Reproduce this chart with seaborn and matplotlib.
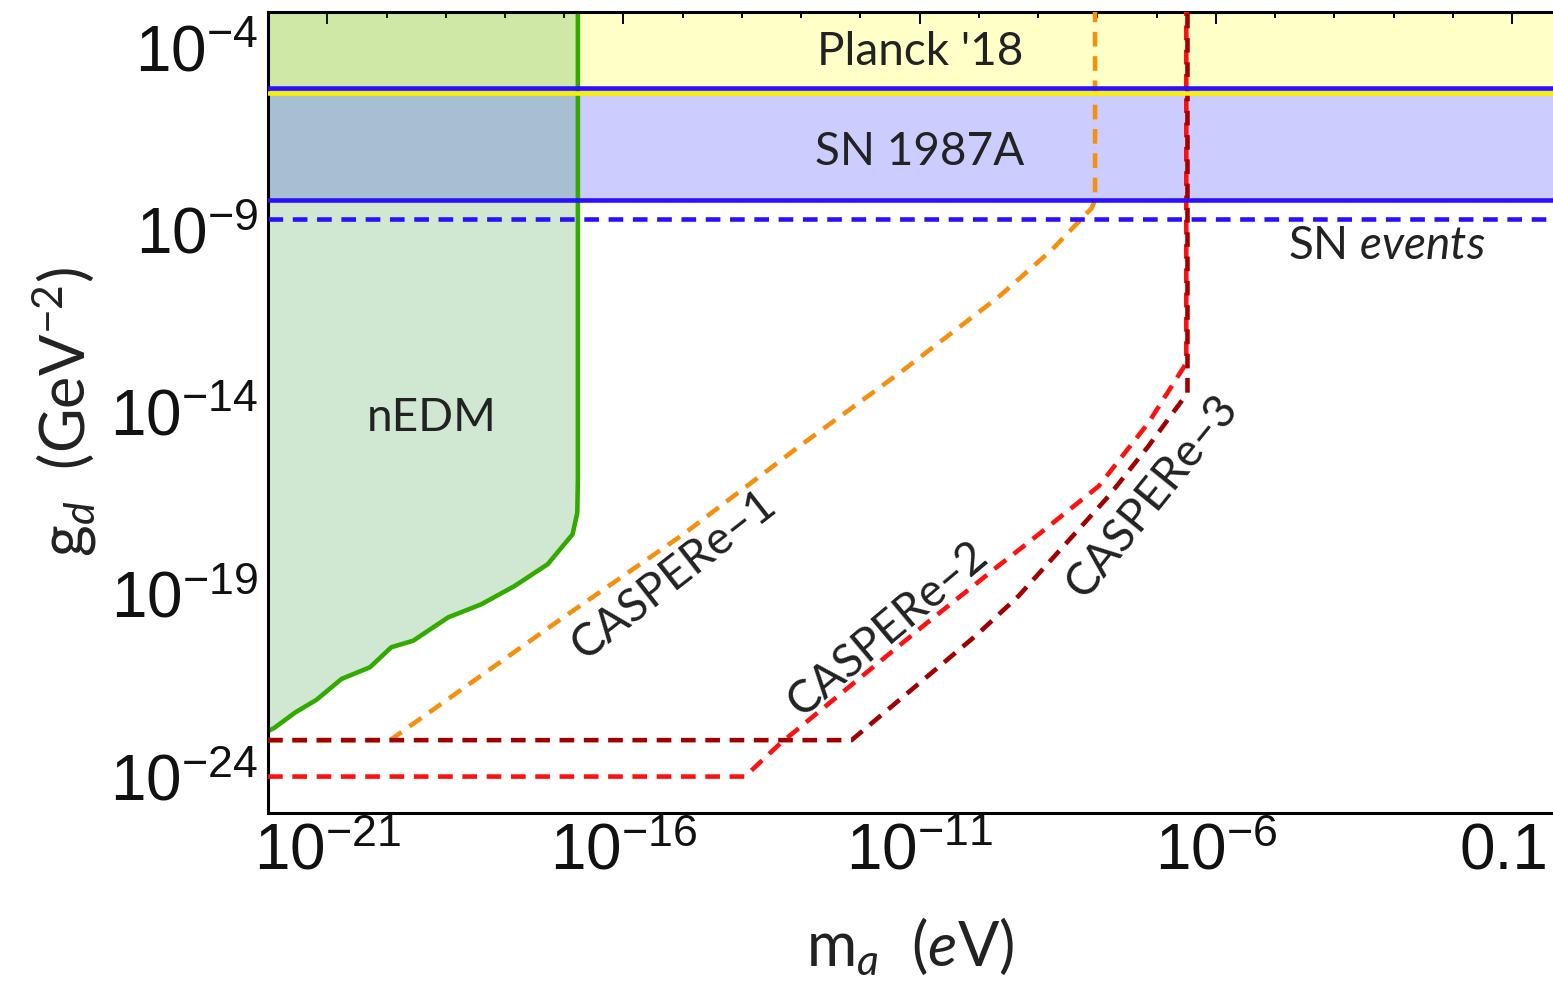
import numpy as np
import pandas as pd
import seaborn as sns
import matplotlib.pyplot as plt
import matplotlib.transforms as mtransforms
from matplotlib.ticker import FixedLocator, FixedFormatter, NullFormatter

# all values are log10 exponents
x_range = (-22.0, -0.31)
y_range = (-25.0, -3.0)

nedm_m = [-22.0, -21.90, -21.54, -21.18, -20.76, -20.28, -19.92, -19.55, -18.96,
          -18.40, -17.84, -17.28, -16.86, -16.78, -16.77, -16.77]
nedm_g = [-22.75, -22.67, -22.24, -21.89, -21.32, -21.0, -20.45, -20.27, -19.63,
          -19.27, -18.77, -18.17, -17.35, -16.76, -15.84, -3.0]

casper1_m = [-22.0, -19.94, -17.06, -15.0, -13.03, -11.34, -9.66, -8.77, -8.10, -8.04, -8.04]
casper1_g = [-23.0, -23.0, -19.68, -17.36, -14.93, -12.92, -10.82, -9.54, -8.40, -8.17, -3.0]

casper2_m = [-22.0, -13.95, -13.36, -10.93, -9.66, -9.10, -7.98, -7.14, -6.50, -6.50]
casper2_g = [-24.0, -24.0, -23.1, -19.85, -18.2, -17.49, -16.03, -14.29, -12.65, -3.0]

casper3_m = [-22.0, -12.15, -10.03, -9.33, -7.81, -7.14, -6.48, -6.48]
casper3_g = [-23.0, -23.0, -20.1, -19.04, -16.30, -14.93, -13.47, -3.0]

planck_g = -5.22
sn1987a_g = (-8.17, -5.10)
sn_events_g = -8.70

xtick_exp = [-21, -16, -11, -6, -1]
xtick_labels = [r'$\mathdefault{10^{-21}}$', r'$\mathdefault{10^{-16}}$',
                r'$\mathdefault{10^{-11}}$', r'$\mathdefault{10^{-6}}$', '0.1']
ytick_exp = [-24, -19, -14, -9, -4]
ytick_labels = [r'$\mathdefault{10^{-24}}$', r'$\mathdefault{10^{-19}}$',
                r'$\mathdefault{10^{-14}}$', r'$\mathdefault{10^{-9}}$',
                r'$\mathdefault{10^{-4}}$']

sns.set_style("white")
plt.rcParams['font.family'] = ['Lato', 'DejaVu Sans']
plt.rcParams['mathtext.fontset'] = 'custom'
plt.rcParams['mathtext.rm'] = 'Lato'
plt.rcParams['mathtext.it'] = 'Lato:italic'
plt.rcParams['mathtext.default'] = 'regular'

def to_df(m, g):
    return pd.DataFrame({'m': 10.0 ** np.array(m), 'g': 10.0 ** np.array(g)})

fig = plt.figure(figsize=(15.53, 9.90), dpi=100)
ax = fig.add_axes([0.1726, 0.1788, 0.8274, 0.8094])

ytop = 10.0 ** y_range[1]
# bands
ax.axhspan(10.0 ** planck_g, ytop, color='#ffffc8', lw=0, zorder=0)
ax.axhspan(10.0 ** sn1987a_g[0], 10.0 ** sn1987a_g[1], color='#ccccff', lw=0, zorder=0)
nedm = to_df(nedm_m, nedm_g)
ax.fill_between(nedm['m'], nedm['g'], ytop, color=(20/255, 140/255, 30/255), alpha=0.2, lw=0, zorder=1)

dash = (0, (3.2, 2.1))
lw = 3.3
sns.lineplot(data=nedm, x='m', y='g', sort=False, estimator=None, ax=ax,
             color='#33aa00', lw=lw, zorder=2)
sns.lineplot(data=to_df(casper1_m, casper1_g), x='m', y='g', sort=False, estimator=None,
             ax=ax, color='#f5900f', lw=lw, linestyle=dash, zorder=3)
sns.lineplot(data=to_df(casper2_m, casper2_g), x='m', y='g', sort=False, estimator=None,
             ax=ax, color='#ff1010', lw=lw, linestyle=dash, zorder=4)
sns.lineplot(data=to_df(casper3_m, casper3_g), x='m', y='g', sort=False, estimator=None,
             ax=ax, color='#a00000', lw=lw, linestyle=dash, zorder=5)

ax.axhline(10.0 ** planck_g, color='#f8f000', lw=lw, zorder=6)
for g in sn1987a_g:
    ax.axhline(10.0 ** g, color='#2a10ff', lw=lw, zorder=6)
ax.axhline(10.0 ** sn_events_g, color='#2a10ff', lw=lw, linestyle=dash, zorder=6)

ax.set_xscale('log')
ax.set_yscale('log')
ax.set_xlim(10.0 ** x_range[0], 10.0 ** x_range[1])
ax.set_ylim(10.0 ** y_range[0], ytop)

ax.xaxis.set_major_locator(FixedLocator([10.0 ** e for e in xtick_exp]))
ax.xaxis.set_major_formatter(FixedFormatter(xtick_labels))
ax.xaxis.set_minor_locator(FixedLocator([10.0 ** e for e in range(-22, 0) if e not in xtick_exp]))
ax.xaxis.set_minor_formatter(NullFormatter())
ax.yaxis.set_major_locator(FixedLocator([10.0 ** e for e in ytick_exp]))
ax.yaxis.set_major_formatter(FixedFormatter(ytick_labels))
ax.yaxis.set_minor_locator(FixedLocator([10.0 ** e for e in range(-25, -2) if e not in ytick_exp]))
ax.yaxis.set_minor_formatter(NullFormatter())

for side in ['left', 'bottom', 'top']:
    ax.spines[side].set_linewidth(2.2)
    ax.spines[side].set_color('black')
ax.spines['right'].set_visible(False)
ax.tick_params(which='both', direction='in', top=True, right=False, colors='black')
ax.tick_params(which='major', length=8.6, width=1.4, pad=7)
ax.tick_params(which='minor', length=4.3, width=1.4)
for lab in ax.get_xticklabels() + ax.get_yticklabels():
    lab.set_family('Liberation Sans')
    lab.set_fontsize(46)
    lab.set_color('#111111')

# the last x label sits against the right edge, nudge it in a little
last = ax.xaxis.get_major_ticks()[-1].label1
last.set_transform(last.get_transform() +
                   mtransforms.ScaledTranslation(-8 / 100, 0, fig.dpi_scale_trans))

ax.set_xlabel(r'm$_{\mathit{a}}$  ($\mathit{e}$V)', fontsize=44, color='#222222', labelpad=24)
ax.set_ylabel(r'g$_{\mathit{d}}$  (GeV$^{-2}$)', fontsize=44, color='#222222', labelpad=8)

txt = dict(fontsize=33, color='#222222', ha='center', va='center', rotation_mode='anchor')
ax.text(10 ** -11.0, 10 ** -4.12, "Planck '18", **txt)
ax.text(10 ** -11.0, 10 ** -6.86, 'SN 1987A', **txt)
ax.text(10 ** -3.11, 10 ** -9.43, r'SN $\mathit{events}$', **txt)
ax.text(10 ** -19.24, 10 ** -14.15, 'nEDM', **txt)
ax.text(10 ** -15.14, 10 ** -18.45, 'CASPERe–1', rotation=38, **txt)
ax.text(10 ** -11.53, 10 ** -19.95, 'CASPERe–2', rotation=40, **txt)
ax.text(10 ** -7.08, 10 ** -16.31, 'CASPERe–3', rotation=51, **txt)

fig.savefig('out.png', dpi=100)
